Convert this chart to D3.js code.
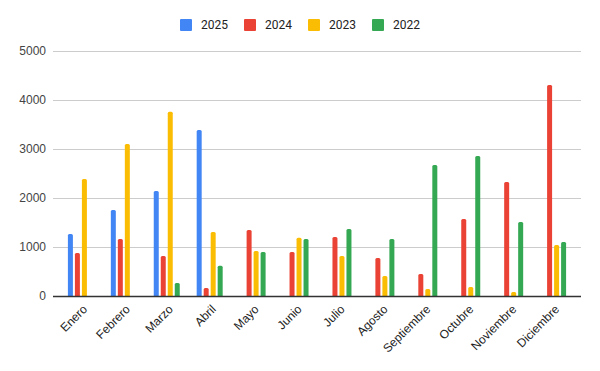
<!DOCTYPE html>
<html>
<head>
<meta charset="utf-8">
<script src="https://cdn.jsdelivr.net/npm/d3@7"></script>
<style>
  body { margin: 0; background: #fff; }
  svg { display: block; }
</style>
</head>
<body>
<div id="chart"></div>
<script>
const months = ["Enero", "Febrero", "Marzo", "Abril", "Mayo", "Junio", "Julio",
  "Agosto", "Septiembre", "Octubre", "Noviembre", "Diciembre"];
const years = ["2025", "2024", "2023", "2022"];
const colors = ["#4285f4", "#ea4335", "#fbbc04", "#34a853"];

// values per year, null = no data
const v2025 = [1265, 1755, 2143, 3388, null, null, null, null, null, null, null, null];
const v2024 = [877, 1163, 816, 163, 1347, 898, 1204, 776, 449, 1571, 2327, 4306];
const v2023 = [2388, 3102, 3761, 1306, 918, 1190, 816, 408, 143, 184, 82, 1041];
const v2022 = [null, null, 265, 618, 898, 1163, 1367, 1163, 2673, 2857, 1510, 1102];
const yTicks = [0, 1000, 2000, 3000, 4000, 5000];

const series = [v2025, v2024, v2023, v2022];

function make_rows(){
  let rows = [];
  for(let s = 0; s < series.length; s++){
    for(let m = 0; m < months.length; m++){
      if(series[s][m] === null) continue;
      rows.push({ month: months[m], year: years[s], value: series[s][m], color: colors[s] });
    }
  }
  return rows;
}

const rows = make_rows();

const width = 600, height = 371;
const plotLeft = 53, plotRight = 581, plotTop = 51, plotBottom = 296;

const svg = d3.select("#chart").append("svg")
  .attr("width", width)
  .attr("height", height);

const x0 = d3.scaleBand()
  .domain(months)
  .range([plotLeft, plotRight])
  .paddingInner(0)
  .paddingOuter(0.15);

const x1 = d3.scaleBand()
  .domain(years)
  .range([-14, 14])
  .paddingInner(2 / 7)
  .paddingOuter(1 / 7);

const y = d3.scaleLinear()
  .domain([0, 5000])
  .range([plotBottom, plotTop]);

// grid lines
svg.append("g")
  .selectAll("line")
  .data(yTicks.filter(d => d !== 0))
  .join("line")
    .attr("x1", plotLeft)
    .attr("x2", plotRight)
    .attr("y1", d => Math.round(y(d)) + 0.5)
    .attr("y2", d => Math.round(y(d)) + 0.5)
    .attr("stroke", "#cccccc")
    .attr("stroke-width", 1);

// y axis labels
const yAxis = d3.axisLeft(y).tickValues(yTicks).tickFormat(d3.format("d")).tickSize(0).tickPadding(7);
svg.append("g")
  .attr("transform", `translate(${plotLeft},0)`)
  .call(yAxis)
  .call(g => g.select(".domain").remove())
  .call(g => g.selectAll("text")
    .attr("font-family", "Arial, 'Liberation Sans', sans-serif")
    .attr("font-size", "12px")
    .attr("fill", "#444"));

// bars with slightly rounded tops
function barPath(x, yTop, w, yBase){
  const r = Math.min(1.5, (yBase - yTop) / 2);
  return `M${x},${yBase}V${yTop + r}Q${x},${yTop} ${x + r},${yTop}` +
    `H${x + w - r}Q${x + w},${yTop} ${x + w},${yTop + r}V${yBase}Z`;
}

svg.append("g")
  .selectAll("path")
  .data(rows)
  .join("path")
    .attr("d", d => {
      const cx = x0(d.month) + x0.bandwidth() / 2;
      return barPath(cx + x1(d.year), y(d.value), x1.bandwidth(), y(0));
    })
    .attr("fill", d => d.color);

// baseline
svg.append("line")
  .attr("x1", plotLeft)
  .attr("x2", plotRight)
  .attr("y1", plotBottom + 0.5)
  .attr("y2", plotBottom + 0.5)
  .attr("stroke", "#333")
  .attr("stroke-width", 1.5);

// x labels
svg.append("g")
  .selectAll("text")
  .data(months)
  .join("text")
    .attr("transform", d => `translate(${x0(d) + x0.bandwidth() / 2 + 4},${plotBottom + 11}) rotate(-45)`)
    .attr("text-anchor", "end")
    .attr("dy", "0.35em")
    .attr("font-family", "Arial, 'Liberation Sans', sans-serif")
    .attr("font-size", "12px")
    .attr("fill", "#222")
    .text(d => d);

// legend
const legend = svg.append("g")
  .selectAll("g")
  .data(years)
  .join("g")
    .attr("transform", (d, i) => `translate(${180 + i * 64},19)`);

legend.append("rect")
  .attr("width", 12)
  .attr("height", 12)
  .attr("rx", 1)
  .attr("fill", (d, i) => colors[i]);

legend.append("text")
  .attr("x", 21)
  .attr("y", 6)
  .attr("dy", "0.35em")
  .attr("font-family", "Roboto, Arial, sans-serif")
  .attr("font-size", "12px")
  .attr("fill", "#222")
  .text(d => d);
</script>
</body>
</html>
